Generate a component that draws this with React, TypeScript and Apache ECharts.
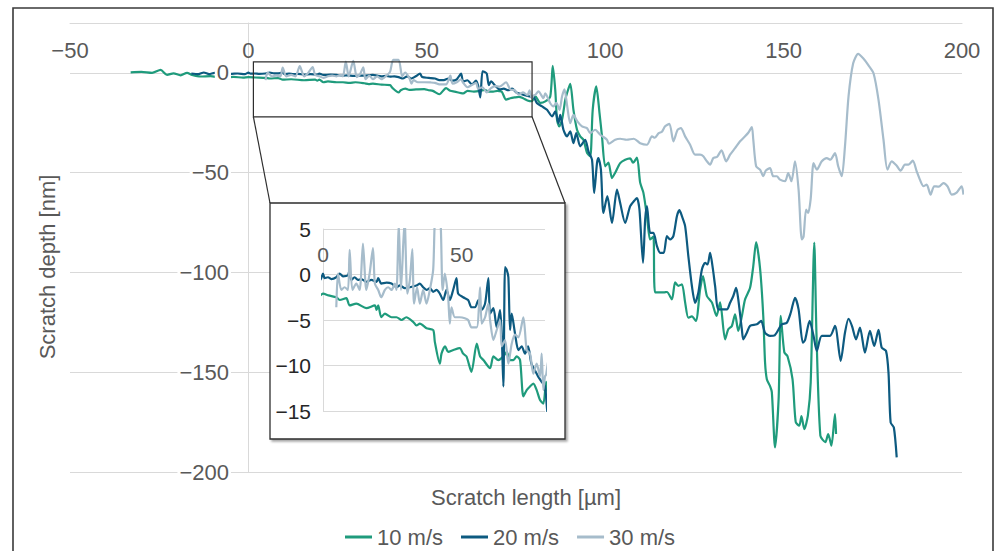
import React, { useEffect, useRef } from "react";
import * as echarts from "echarts";

const FONT = '"Liberation Sans", Arial, Helvetica, sans-serif';

const speeds = ["10 m/s", "20 m/s", "30 m/s"];
const colors = ["#1f9b7c", "#0d5a80", "#a6bccb"];

const xTitle = "Scratch length [µm]";
const yTitle = "Scratch depth [nm]";

// main axes
const mainXRange = [-50, 200];
const mainXStep = 50;
const mainYRange = [-200, 25];
const mainYStep = 50;
// inset axes
const insetXRange = [0, 80];
const insetXStep = 50;
const insetYRange = [-15, 5];
const insetYStep = 5;
// zoomed region marked on the main chart (data units)
const zoomBoxX = [1.4, 79.5];
const zoomBoxY = [5.5, -22];

const depth10: number[][] = [
  [-33, 0.3], [-30, 0.5], [-27, 0], [-24.6, 1.5], [-22.8, -1], [-21, -0.2], [-19, -1.2], [-17.2, 0],
  [-15.8, -1], [-13.4, -1.8], [-10.6, -1.6], [-7.8, -2.4], [-4.2, -2.0], [-1.5, -2.4],
  [0, -2.1], [2, -2.3], [4.8, -2.5], [6, -2.8], [8.4, -2.6], [9.6, -3.4], [12, -3.2], [15.6, -3.7],
  [18.7, -3.4], [19.3, -3.9], [19.9, -3.4], [21, -4.7], [22.3, -4.3], [24.7, -4.7], [26.5, -4.7],
  [28.3, -5.0], [30, -4.7], [32.5, -5.2], [33.7, -5.6], [34.9, -5.4], [37.3, -5.9], [39.7, -6.1],
  [40.3, -7.4], [42.1, -9.8], [42.7, -8.7], [44, -7.9], [45.1, -8.5], [47, -8.3], [49.3, -8.1],
  [50.5, -8.7], [51.7, -9.0], [53.5, -10.7], [55.4, -7.6], [56.6, -9.0], [57.8, -9.4], [60.2, -10.3],
  [61.4, -9.0], [63.2, -9.4], [65, -9.0], [66.2, -8.5], [67.4, -9.4], [68.6, -9.4], [69.8, -9.0],
  [71, -9.4], [72.2, -13.4], [73.4, -12.7], [74.6, -12.3], [75.8, -12.0], [77, -12.7], [78.2, -13.8],
  [79.4, -14.2], [80.4, -11.8], [81.8, -15], [83.2, -14.3], [84.6, -11.8], [85.3, 3.5], [86, -8.5],
  [86.5, -23.5], [87.1, -26.8], [87.9, -23.5], [88.8, -13.5], [89.3, -10.2], [90.2, -5.5], [91.1, -18.5],
  [92.1, -28.5], [93, -31.8], [93.9, -33.5], [94.9, -40], [95.8, -41.8], [96.5, -18.5], [97.5, -6.8],
  [98.4, -20], [99.1, -31.8], [100, -46.8], [100.9, -45], [101.9, -52.7], [102.8, -50], [104.2, -45.2],
  [105.6, -43.5], [107, -42.8], [107.8, -45], [108.9, -42.5], [109.8, -55], [110.7, -60], [111.7, -71.8],
  [112.6, -83.5], [113.5, -82], [114, -110], [116.4, -110], [117.3, -109.8], [118.7, -113.5],
  [119.6, -105], [120.5, -106.7], [121.5, -106], [122.4, -115], [123.3, -122.7], [124.3, -122],
  [125.4, -124.3], [126.6, -108.5], [127.4, -101.8], [128.5, -111.8], [129.9, -115], [131.2, -121.8],
  [132.2, -115], [133.6, -133.5], [134.5, -128.5], [135.5, -126.8], [136.4, -121], [137.3, -129.3],
  [138.3, -122], [139.2, -113.5], [140.6, -107.7], [141.5, -96.8], [142.3, -84.8], [143.4, -98],
  [144.3, -121.8], [144.8, -145], [145.3, -153.5], [146.2, -157], [146.7, -160], [147.6, -187.7],
  [148.6, -163.5], [149.2, -121.8], [150.2, -140], [151.1, -142], [152.5, -153.5], [153.4, -175],
  [154.4, -176.8], [155, -172], [155.8, -178.5], [156.8, -171.8], [157.6, -155], [158.6, -85],
  [159.2, -130], [160.3, -181.8], [161.7, -185], [162.5, -181], [163.4, -186.8], [164.4, -171],
  [164.7, -181],
];

const depth20: number[][] = [
  [-16, -0.3], [-14, -0.6], [-12.5, 0.2], [-11, -0.6], [-9.5, 0], [-8, -0.4], [-5, -0.5], [-3, -0.3],
  [-1, -0.6], [0, 0.1], [0.6, -0.4], [1.8, -0.3], [3, -0.5], [4.8, -0.3], [6, 0.1], [7.2, -0.2],
  [9, -0.1], [9.4, 0.3], [10.2, -0.6], [11.4, -0.3], [12.6, -0.6], [13.8, -0.5], [15.6, -0.8],
  [17.4, -0.6], [19.3, -0.8], [19.9, -0.4], [21, -1.0], [22.9, -0.9], [24.7, -1.0], [26.5, -1.4],
  [27.7, -1.2], [29.5, -1.5], [31.3, -1.4], [33.7, -1.2], [34.9, -1.0], [36.1, -1.4], [37.3, -1.7],
  [38.5, -1.5], [39.7, -1.9], [40.9, -1.7], [42.1, -2.1], [43.3, -2.8], [44.5, -1.7], [45.7, -2.8],
  [46.9, -1.7], [48.1, -0.4], [48.7, -2.1], [50.5, -2.5], [52.3, -2.8], [53.5, -3.6], [54.8, -3.6],
  [56, -2.8], [57.2, -3.9], [58.4, -3.2], [59.6, -0.4], [60.2, -4.3], [61.4, -3.7], [62.6, -5.8],
  [63.8, -3.9], [64.4, -6.5], [65, -12.3], [65.6, 0.8], [66.2, 0.5], [66.8, -0.3], [67.4, -6.1],
  [68, -4.3], [69.2, -6.5], [70.4, -8.3], [71.6, -7.9], [72.8, -8.7], [73.9, -7.9], [75.1, -9.8],
  [76.3, -10.5], [77.5, -11.2], [78.8, -11.8], [80, -12.3], [80.9, -15.2], [82.3, -16.8], [83.7, -18.5],
  [85.1, -21.8], [86, -19.3], [86.9, -25.2], [87.4, -21], [88.3, -28.5], [89.3, -31.8], [90.2, -29.3],
  [91.1, -35.2], [91.9, -30.2], [93, -36.8], [94.4, -33.5], [95.3, -39.3], [96.3, -43.5], [96.9, -60.2],
  [97.7, -45.2], [98.1, -42.7], [98.8, -48.5], [99.5, -70.2], [100.6, -61.8], [101.9, -75.2],
  [103.3, -58.5], [104.2, -65.2], [105.6, -75.2], [107, -66.8], [108.4, -63.5], [108.9, -62.7],
  [109.6, -68.5], [110.6, -95.2], [111.2, -73.5], [111.7, -66.8], [112.6, -80.2], [113.5, -80.2],
  [114.5, -86.8], [115.4, -90.2], [116.4, -90.2], [117.3, -81.8], [118.2, -83.5], [119.1, -81.8],
  [120.1, -71.8], [120.8, -68.8], [121.5, -71.8], [122.4, -76.8], [123.3, -91.8], [124.3, -106.8],
  [125.2, -115.2], [126.1, -110.2], [127.1, -98.5], [128, -95.2], [128.7, -96], [129.4, -90.2],
  [130.2, -98.5], [130.8, -106.8], [131.8, -118.5], [134.1, -118.5], [135, -115.2], [135.9, -111.8],
  [136.7, -107.7], [137.3, -113.5], [138.3, -128.5], [138.7, -133.5], [139.7, -130.2], [140.6, -126.8],
  [142.5, -126], [143.7, -124.3], [144.8, -130.2], [146.2, -131.8], [147.5, -131.5], [149.5, -126],
  [150.9, -125.2], [152, -120.2], [153.2, -112.7], [154.2, -118.5], [155.4, -135.2], [156, -134],
  [157.3, -124.3], [158.4, -131.8], [159.3, -139.3], [160.7, -131.8], [163, -131.8], [164.4, -126.8],
  [166, -144.3], [167.2, -130.2], [168.2, -123.2], [169.2, -127], [170.3, -133.5], [171.4, -127.7],
  [172.8, -140.2], [174.2, -129.3], [175.4, -136.8], [176.6, -128.8], [177.5, -137.7], [178.7, -139.3],
  [179.4, -150.2], [180, -175.2], [180.9, -177.7], [181.7, -192.7],
];

const depth30: number[][] = [
  [4.8, -3.6], [5.4, 0.1], [6.6, -1.7], [7.8, -1.4], [9, -1.7], [9.6, 2.7], [10.6, -1.7], [12, -1.0],
  [13.2, -1.7], [14.4, 3.4], [15.6, -1.7], [16.8, 0.1], [18, 2.9], [18.7, -1.0], [19.9, -1.7],
  [21, -2.5], [22.3, -1.7], [23.5, -1.4], [24.7, -1.7], [25.9, -1.0], [26.5, -1.7], [27.3, 5.7],
  [28.1, -1.7], [29.4, 6], [30.4, -2.1], [31.3, -0.6], [32.2, 2.8], [32.8, -3.2], [33.9, -1.4],
  [34.9, -3.2], [36.1, -1.7], [37.3, -3.2], [38.5, -1.7], [39.7, 0.5], [40.6, 6.5], [42.1, 6.5],
  [43.1, -1.7], [43.9, 0.1], [45.1, -2.5], [45.7, -5.4], [46.3, -3.6], [47.5, -4.7], [49.3, -4.7],
  [51.1, -4.8], [52.3, -5.0], [53.5, -5.8], [55.4, -5.8], [56.6, -1.4], [57.2, -5.4], [58.4, -4.7],
  [59.6, -3.2], [60.2, -5.0], [61.4, -7.2], [62.6, -6.1], [63.8, -5.0], [64.4, -7.9], [65.6, -7.2],
  [66.8, -9.8], [68, -7.6], [69.2, -6.6], [70.4, -6.9], [72.2, -4.7], [73.4, -8.3], [74.6, -8.7],
  [75.8, -10.9], [77, -9.8], [78.2, -11.2], [78.8, -8.7], [79.4, -12.7], [80, -11.2], [80.4, -11],
  [81.3, -9.3], [82.7, -12.7], [83.2, -10.2], [84.6, -15.2], [85.5, -16.8], [86.3, -15], [87.2, -18.5],
  [87.9, -11.8], [88.6, -8.2], [89.3, -16], [90.2, -25.2], [91.1, -21], [92.2, -24.3], [93.5, -26.8],
  [94.9, -27.7], [95.8, -30.2], [97.2, -28.5], [98.6, -31], [100.5, -33.5], [101, -35.5],
  [102.8, -33.5], [104.2, -33], [106, -33.5], [108, -33], [109.8, -35.2], [111.7, -36], [113.1, -31.8],
  [113.9, -32.5], [115, -30.2], [115.9, -29.5], [116.8, -26.8], [118, -25.5], [119.1, -34.3],
  [120.3, -28.5], [121.2, -27.7], [122.4, -31.8], [123.8, -36], [125.2, -41], [126.6, -41],
  [127.5, -41.8], [128.5, -44.3], [129.4, -46], [130.3, -42.7], [131.4, -42], [132.6, -38.8],
  [133.9, -44.3], [135, -41], [136.4, -37.7], [137.8, -34.3], [139.2, -31.8], [140.1, -30],
  [141.1, -27.2], [141.5, -33.5], [142.3, -46.8], [143.4, -48.5], [144.3, -51.8], [145, -49],
  [146.2, -47.7], [147.1, -51.8], [148.1, -51.8], [149, -53.5], [150.4, -54.3], [151.3, -50.2],
  [152.2, -54.3], [153.2, -44.3], [154.2, -58.5], [155.1, -83.5], [155.6, -82], [156.3, -68.5],
  [156.9, -70.2], [157.6, -63], [158.4, -45.2], [159.3, -48.5], [160.7, -44.3], [162.1, -42.7],
  [163.1, -43.5], [164.4, -40.2], [165.3, -46.8], [166.3, -51.8], [167.2, -36.8], [168.2, -11.8],
  [169.5, 4.8], [170.9, 9.5], [172.3, 7.3], [173.7, 4], [175.2, -0.2], [176.6, -13.5], [178, -33.5],
  [179.1, -48.5], [180.3, -44.3], [181.7, -46.5], [182.8, -49], [184, -46], [185, -46], [186.2, -44],
  [187.3, -49.3], [188.2, -53.5], [189.2, -56.8], [190.1, -56], [191.2, -61], [192.2, -56.8],
  [193.5, -57], [194.8, -55.2], [196, -57], [197.1, -61], [198.5, -60], [199.9, -56.8], [200.4, -61],
];

const seriesData = [depth10, depth20, depth30];

const fmt = (v: number) => (v < 0 ? "\u2212" + Math.abs(v) : String(v));

const GRID_COLOR = "#d9d9d9";
const TEXT_COLOR = "#595959";

function buildOption() {
  const mainSeries = seriesData.map((d, i) => ({
    name: speeds[i],
    type: "line",
    xAxisIndex: 0,
    yAxisIndex: 0,
    data: d,
    showSymbol: false,
    symbol: "none",
    smooth: 0.25,
    lineStyle: { color: colors[i], width: 2.2 },
    itemStyle: { color: colors[i] },
    z: 2,
  }));
  const insetSeries = seriesData.map((d, i) => ({
    name: speeds[i],
    type: "line",
    xAxisIndex: 1,
    yAxisIndex: 2,
    data: d,
    showSymbol: false,
    symbol: "none",
    smooth: 0.25,
    clip: true,
    lineStyle: { color: colors[i], width: 2.2 },
    itemStyle: { color: colors[i] },
    z: 4,
  }));
  return {
    animation: false,
    backgroundColor: "#ffffff",
    textStyle: { fontFamily: FONT },
    legend: {
      data: speeds,
      left: 340,
      top: 521,
      icon: "rect",
      itemWidth: 27,
      itemHeight: 3,
      itemGap: 18,
      textStyle: { fontSize: 22, color: TEXT_COLOR, fontFamily: FONT },
    },
    grid: [
      { left: 70, right: 33, top: 23, bottom: 79 },
      { left: 323, right: 450, top: 229, bottom: 140 },
    ],
    xAxis: [
      {
        type: "value",
        gridIndex: 0,
        min: mainXRange[0],
        max: mainXRange[1],
        interval: mainXStep,
        position: "top",
        axisLine: { show: true, onZero: false, lineStyle: { color: GRID_COLOR, width: 1 } },
        axisTick: { show: false },
        splitLine: { show: false },
        axisLabel: {
          inside: true,
          margin: 16,
          fontSize: 22,
          color: TEXT_COLOR,
          fontFamily: FONT,
          formatter: fmt,
        },
      },
      {
        type: "value",
        gridIndex: 1,
        min: insetXRange[0],
        max: insetXRange[1],
        interval: insetXStep,
        position: "top",
        z: 3,
        axisLine: { show: false, onZero: false },
        axisTick: { show: false },
        splitLine: { show: false },
        axisLabel: {
          inside: true,
          margin: 15,
          fontSize: 21,
          color: TEXT_COLOR,
          fontFamily: FONT,
          showMaxLabel: false,
          formatter: fmt,
        },
      },
    ],
    yAxis: [
      {
        type: "value",
        gridIndex: 0,
        min: mainYRange[0],
        max: mainYRange[1],
        interval: mainYStep,
        axisLine: { show: true, onZero: true, lineStyle: { color: GRID_COLOR, width: 1 } },
        axisTick: { show: false },
        axisLabel: { show: false },
        splitLine: { show: true, lineStyle: { color: GRID_COLOR, width: 1 } },
        z: 0,
      },
      {
        type: "value",
        gridIndex: 0,
        position: "left",
        min: mainYRange[0],
        max: mainYRange[1],
        interval: mainYStep,
        axisLine: { show: false, onZero: false },
        axisTick: { show: false },
        splitLine: { show: false },
        axisLabel: {
          margin: -161,
          fontSize: 22,
          color: TEXT_COLOR,
          fontFamily: FONT,
          backgroundColor: "#ffffff",
          padding: [1, 2],
          showMaxLabel: false,
          formatter: fmt,
        },
        z: 10,
      },
      {
        type: "value",
        gridIndex: 1,
        min: insetYRange[0],
        max: insetYRange[1],
        interval: insetYStep,
        z: 3,
        axisLine: { show: true, onZero: false, lineStyle: { color: GRID_COLOR, width: 1 } },
        axisTick: { show: false },
        splitLine: { show: true, lineStyle: { color: GRID_COLOR, width: 1 } },
        axisLabel: {
          margin: 12,
          fontSize: 21,
          color: "#262626",
          fontFamily: FONT,
          formatter: fmt,
        },
      },
    ],
    series: [...mainSeries, ...insetSeries],
  };
}

export default function App() {
  const ref = useRef<HTMLDivElement>(null);
  useEffect(() => {
    if (!ref.current) return;
    const chart = echarts.init(ref.current, null, { renderer: "svg" });
    chart.setOption(buildOption() as any);
    const p0 = chart.convertToPixel({ gridIndex: 0 } as any, [zoomBoxX[0], zoomBoxY[0]]) as number[];
    const p1 = chart.convertToPixel({ gridIndex: 0 } as any, [zoomBoxX[1], zoomBoxY[1]]) as number[];
    const inset = { x: 270, y: 203, w: 295, h: 236 };
    chart.setOption({
      graphic: [
        {
          type: "rect",
          id: "frame",
          z: 0,
          silent: true,
          shape: { x: 13, y: 8, width: 980, height: 600 },
          style: { fill: "none", stroke: "#3a3a3a", lineWidth: 1.6 },
        },
        {
          type: "rect",
          id: "insetBox",
          z: 1,
          silent: true,
          shape: { x: inset.x, y: inset.y, width: inset.w, height: inset.h },
          style: {
            fill: "#ffffff",
            stroke: "#2e2e2e",
            lineWidth: 1.3,
            shadowColor: "rgba(0,0,0,0.35)",
            shadowOffsetX: 2,
            shadowOffsetY: 2,
            shadowBlur: 2,
          },
        },
        {
          type: "rect",
          id: "zoomBox",
          z: 5,
          silent: true,
          shape: { x: p0[0], y: p0[1], width: p1[0] - p0[0], height: p1[1] - p0[1] },
          style: { fill: "none", stroke: "#2e2e2e", lineWidth: 1.2 },
        },
        {
          type: "line",
          id: "connL",
          z: 5,
          silent: true,
          shape: { x1: p0[0], y1: p1[1], x2: inset.x, y2: inset.y },
          style: { stroke: "#2e2e2e", lineWidth: 1.2 },
        },
        {
          type: "line",
          id: "connR",
          z: 5,
          silent: true,
          shape: { x1: p1[0], y1: p1[1], x2: inset.x + inset.w, y2: inset.y },
          style: { stroke: "#2e2e2e", lineWidth: 1.2 },
        },
        {
          type: "text",
          id: "xTitle",
          z: 5,
          silent: true,
          x: 526,
          y: 497,
          style: {
            text: xTitle,
            fontSize: 22,
            fontFamily: FONT,
            fill: TEXT_COLOR,
            align: "center",
            verticalAlign: "middle",
          },
        },
        {
          type: "text",
          id: "yTitle",
          z: 5,
          silent: true,
          x: 47,
          y: 267,
          rotation: Math.PI / 2,
          style: {
            text: yTitle,
            fontSize: 22,
            fontFamily: FONT,
            fill: TEXT_COLOR,
            align: "center",
            verticalAlign: "middle",
          },
        },
      ],
    } as any);
    return () => chart.dispose();
  }, []);
  return (
    <div
      ref={ref}
      style={{ position: "absolute", left: 0, top: 0, width: 995, height: 551 }}
    />
  );
}
